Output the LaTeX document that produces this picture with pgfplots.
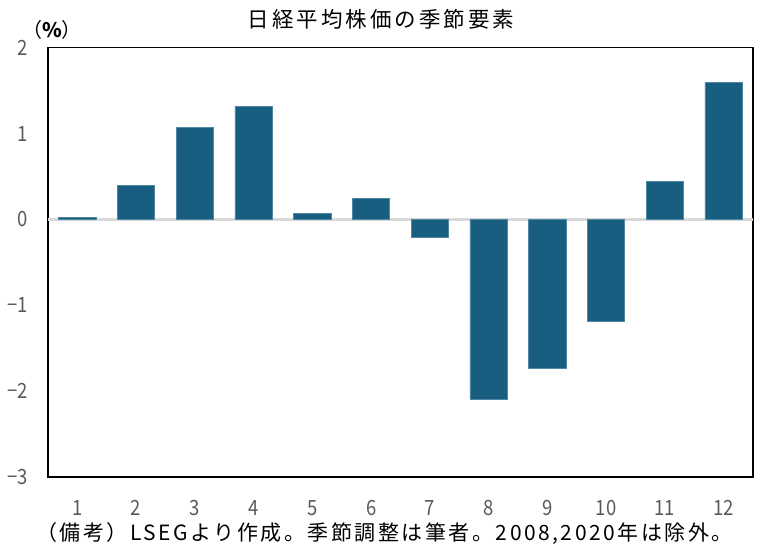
\documentclass[border=0pt]{standalone}
\usepackage{pgfplots}
\pgfplotsset{compat=1.18}
\usepackage{fontspec}
\setmainfont{Noto Sans CJK JP}
\newfontfamily\titlefont[LetterSpace=14]{Noto Sans CJK JP}
\newfontfamily\footfont[LetterSpace=12]{Noto Sans CJK JP}
\newfontfamily\tickfont[FakeStretch=0.88]{Noto Sans CJK JP}
\definecolor{barblue}{RGB}{23,94,128}
\definecolor{baredge}{RGB}{80,135,162}
\definecolor{ticgray}{RGB}{89,89,89}
\definecolor{zerogray}{RGB}{217,217,217}
\begin{document}
\begin{tikzpicture}
\path[use as bounding box] (-48pt,-77pt) rectangle (711pt,477pt);
\begin{axis}[
  at={(0pt,0pt)}, anchor=south west,
  scale only axis,
  width=705pt, height=429.3pt,
  xmin=0.5, xmax=12.5,
  ymin=-3, ymax=2,
  xtick={1,...,12},
  xticklabels={1,2,3,4,5,6,7,8,9,10,11,12},
  ytick={-3,-2,-1,0,1,2},
  yticklabels={−3,−2,−1,0,1,2},
  major tick length=0pt,
  axis line style={black, line width=1.2pt},
  /pgf/number format/assume math mode=true,
  ticklabel style={font=\tickfont\fontsize{21}{21}\selectfont, text=ticgray, inner sep=0pt},
  yticklabel style={anchor=east, xshift=-20pt},
  xticklabel style={anchor=north, yshift=-23pt},
  extra y ticks={0},
  extra y tick labels={},
  extra y tick style={grid=major, grid style={color=zerogray, line width=2.2pt}},
  ybar, bar width=37.3pt, bar shift=0pt,
]
\addplot[fill=barblue, draw=baredge, line width=0.7pt] coordinates {
(1,0.02) (2,0.40) (3,1.07) (4,1.32) (5,0.07) (6,0.24)
(7,-0.21) (8,-2.09) (9,-1.73) (10,-1.19) (11,0.44) (12,1.60)
};
\end{axis}
\node[font=\titlefont\fontsize{21.5}{21.5}\selectfont, inner sep=0pt] at (333pt,457.5pt) {日経平均株価の季節要素};
\node[font=\fontsize{20}{20}\selectfont, inner sep=0pt] at (4pt,447pt) {（\textbf{\%}）};
\node[font=\footfont\fontsize{21}{21}\selectfont, inner sep=0pt] at (336.5pt,-57pt) {（備考）LSEGより作成。季節調整は筆者。2008,2020年は除外。};
\end{tikzpicture}
\end{document}
